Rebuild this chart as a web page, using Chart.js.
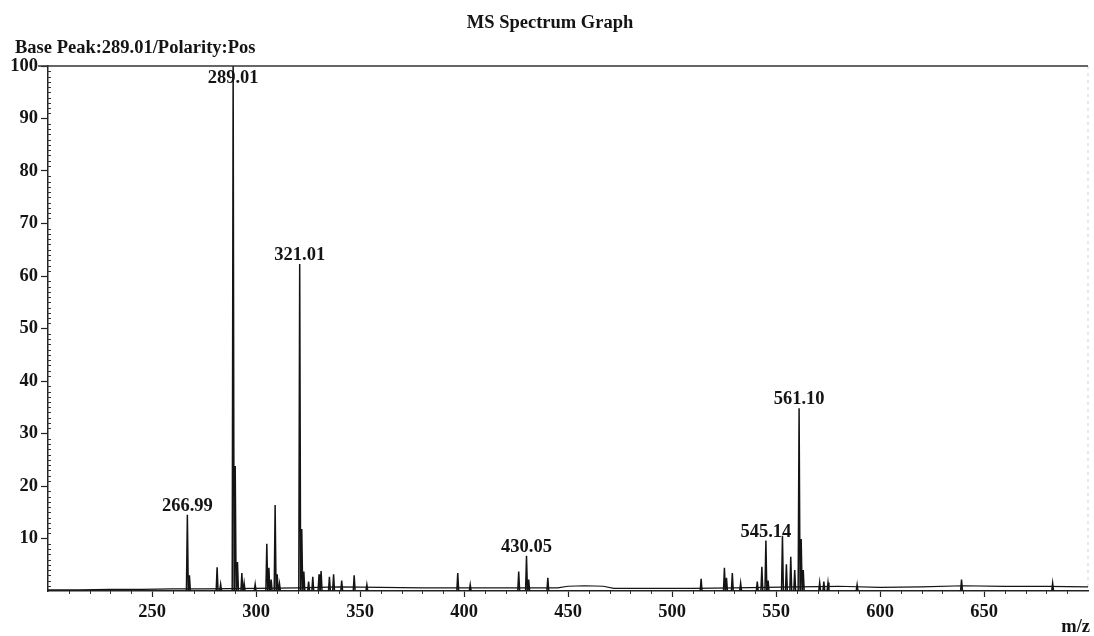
<!DOCTYPE html>
<html>
<head>
<meta charset="utf-8">
<title>MS Spectrum Graph</title>
<script src="https://cdn.jsdelivr.net/npm/chart.js@4.4.1/dist/chart.umd.min.js"></script>
<style>
    html, body { margin: 0; padding: 0; background: #fff; }
    #wrap { position: relative; width: 1094px; height: 636px; }
</style>
</head>
<body>
<div id="wrap"><canvas id="chartSpettro"></canvas></div>
<script>
// ====================================
// MS SPECTRUM
// ====================================

const TITOLO = 'MS Spectrum Graph';
const SOTTOTITOLO = 'Base Peak:289.01/Polarity:Pos';
const ASSE_X = 'm/z';

// picchi (m/z, intensita relativa %)
const picchiMz = [
    267.0, 268.0, 281.3, 283.0, 289.01, 290.0, 291.1, 293.2, 294.3, 299.6,
    305.2, 306.2, 307.3, 309.2, 310.2, 311.3, 321.01, 322.0, 323.0, 325.3,
    327.3, 330.3, 331.3, 335.3, 337.3, 341.2, 347.2, 353.3, 397.0, 403.0,
    426.3, 430.05, 431.1, 440.3, 514.0, 525.2, 526.2, 529.0, 533.0, 541.0,
    543.2, 545.14, 546.2, 553.1, 555.0, 557.1, 559.0, 561.10, 562.1, 563.1,
    571.0, 573.0, 575.0, 589.0, 639.2, 683.0
];
const picchiInt = [
    14.5, 3.0, 4.5, 1.3, 100, 23.8, 5.5, 3.4, 1.5, 1.3,
    9.0, 4.4, 2.2, 16.4, 3.2, 1.4, 62.3, 11.8, 3.7, 1.8,
    2.7, 3.2, 3.8, 2.7, 3.2, 2.0, 3.0, 1.2, 3.4, 1.2,
    3.7, 6.7, 2.2, 2.5, 2.3, 4.4, 2.5, 3.4, 1.5, 1.8,
    4.6, 9.6, 2.0, 10.5, 5.1, 6.5, 4.0, 34.8, 9.9, 4.0,
    1.6, 1.8, 1.6, 1.2, 2.2, 1.5
];

// linea di base (rumore di fondo)
const baseMz = [200, 215, 230, 245, 260, 275, 300, 320, 340, 360, 380, 400, 420, 445, 450, 458, 467, 472, 490, 510, 530, 560, 580, 600, 620, 640, 660, 680, 700];
const baseInt = [0.2, 0.2, 0.3, 0.3, 0.4, 0.4, 0.5, 0.6, 0.8, 0.7, 0.6, 0.6, 0.6, 0.6, 0.9, 1.0, 0.9, 0.5, 0.5, 0.5, 0.6, 0.8, 0.9, 0.7, 0.8, 1.0, 0.9, 0.9, 0.8];

// picchi con etichetta
const etichetteMz = [266.99, 289.01, 321.01, 430.05, 545.14, 561.10];
const etichetteInt = [14.5, 100, 62.3, 6.7, 9.6, 34.8];

// tick
const tickXEtichettati = [250, 300, 350, 400, 450, 500, 550, 600, 650];
const tickYEtichettati = [10, 20, 30, 40, 50, 60, 70, 80, 90, 100];

const FONT = "'Liberation Serif', 'Times New Roman', serif";
const NERO = '#141414';

document.addEventListener('DOMContentLoaded', function() {
    disegnaSpettro();
});

function costruisciPicchi() {
    const punti = [];
    picchiMz.forEach((mz, i) => {
        punti.push({ x: mz - 0.45, y: 0 });
        punti.push({ x: mz, y: picchiInt[i] });
        punti.push({ x: mz + 0.45, y: 0 });
        punti.push({ x: mz + 0.46, y: null });
    });
    return punti;
}

// testi, bordo e tick minori
const pluginDecorazioni = {
    id: 'decorazioni',
    afterDatasetsDraw(chart) {
        const ctx = chart.ctx;
        const area = chart.chartArea;
        const sx = chart.scales.x;
        const sy = chart.scales.y;
        ctx.save();

        // bordo superiore e destro
        ctx.strokeStyle = '#333';
        ctx.lineWidth = 1.5;
        ctx.beginPath();
        ctx.moveTo(38, area.top);
        ctx.lineTo(area.right, area.top);
        ctx.stroke();
        ctx.strokeStyle = 'rgba(0,0,0,0.18)';
        ctx.lineWidth = 1;
        ctx.setLineDash([3, 4]);
        ctx.beginPath();
        ctx.moveTo(area.right, area.top);
        ctx.lineTo(area.right, area.bottom);
        ctx.stroke();
        ctx.setLineDash([]);

        // tick minori
        ctx.strokeStyle = '#333';
        ctx.lineWidth = 1;
        sy.ticks.forEach(t => {
            if (t.value % 10 === 0) return;
            const y = Math.round(sy.getPixelForValue(t.value)) + 0.5;
            ctx.beginPath();
            ctx.moveTo(area.left - 1, y);
            ctx.lineTo(area.left + 3, y);
            ctx.stroke();
        });
        sx.ticks.forEach(t => {
            if (t.value % 50 === 0) return;
            const x = Math.round(sx.getPixelForValue(t.value)) + 0.5;
            ctx.beginPath();
            ctx.moveTo(x, area.bottom);
            ctx.lineTo(x, area.bottom + 3);
            ctx.stroke();
        });

        // etichette picchi
        ctx.fillStyle = NERO;
        ctx.font = 'bold 18.5px ' + FONT;
        ctx.textAlign = 'center';
        ctx.textBaseline = 'alphabetic';
        etichetteMz.forEach((mz, i) => {
            const x = sx.getPixelForValue(mz);
            let y = sy.getPixelForValue(etichetteInt[i]) - 4;
            if (y < area.top + 17) y = area.top + 17;
            ctx.fillText(mz.toFixed(2), x, y);
        });

        // titoli
        ctx.fillText(TITOLO, 550, 28);
        ctx.textAlign = 'left';
        ctx.fillText(SOTTOTITOLO, 15, 53);
        ctx.textAlign = 'right';
        ctx.fillText(ASSE_X, 1090, 632);
        ctx.restore();
    }
};

function disegnaSpettro() {
    const ctx = document.getElementById('chartSpettro');

    new Chart(ctx, {
        type: 'line',
        data: {
            datasets: [
                {
                    label: 'Base',
                    data: baseMz.map((mz, i) => ({ x: mz, y: baseInt[i] })),
                    borderColor: NERO,
                    borderWidth: 1.2,
                    pointRadius: 0,
                    tension: 0
                },
                {
                    label: 'Picchi',
                    data: costruisciPicchi(),
                    borderColor: NERO,
                    borderWidth: 1.5,
                    pointRadius: 0,
                    tension: 0,
                    spanGaps: false
                }
            ]
        },
        options: {
            responsive: true,
            maintainAspectRatio: false,
            animation: false,
            layout: {
                padding: { top: 66, right: 6, left: 0, bottom: 0 }
            },
            plugins: {
                legend: { display: false },
                tooltip: { enabled: false }
            },
            scales: {
                x: {
                    type: 'linear',
                    min: 200,
                    max: 700,
                    afterFit(scale) { scale.height = 45; },
                    border: { display: true, color: '#222', width: 1.5 },
                    grid: {
                        drawOnChartArea: false,
                        drawTicks: true,
                        tickLength: 6,
                        tickColor: c => (c.tick && tickXEtichettati.includes(c.tick.value)) ? '#222' : 'rgba(0,0,0,0)',
                        tickWidth: 1.2
                    },
                    ticks: {
                        stepSize: 10,
                        autoSkip: false,
                        maxRotation: 0,
                        padding: 4,
                        color: NERO,
                        font: { family: FONT, size: 18.5, weight: 'bold' },
                        callback: v => tickXEtichettati.includes(v) ? String(v) : ''
                    }
                },
                y: {
                    min: 0,
                    max: 100,
                    afterFit(scale) { scale.width = 48; },
                    border: { display: true, color: '#222', width: 1.5 },
                    grid: {
                        drawOnChartArea: false,
                        drawTicks: true,
                        tickLength: 7,
                        tickColor: c => (c.tick && tickYEtichettati.includes(c.tick.value)) ? '#222' : 'rgba(0,0,0,0)',
                        tickWidth: 1.2
                    },
                    ticks: {
                        stepSize: 1,
                        autoSkip: false,
                        padding: 3,
                        color: NERO,
                        font: { family: FONT, size: 18.5, weight: 'bold' },
                        callback: v => tickYEtichettati.includes(v) ? String(v) : ''
                    }
                }
            }
        },
        plugins: [pluginDecorazioni]
    });
}
</script>
</body>
</html>
